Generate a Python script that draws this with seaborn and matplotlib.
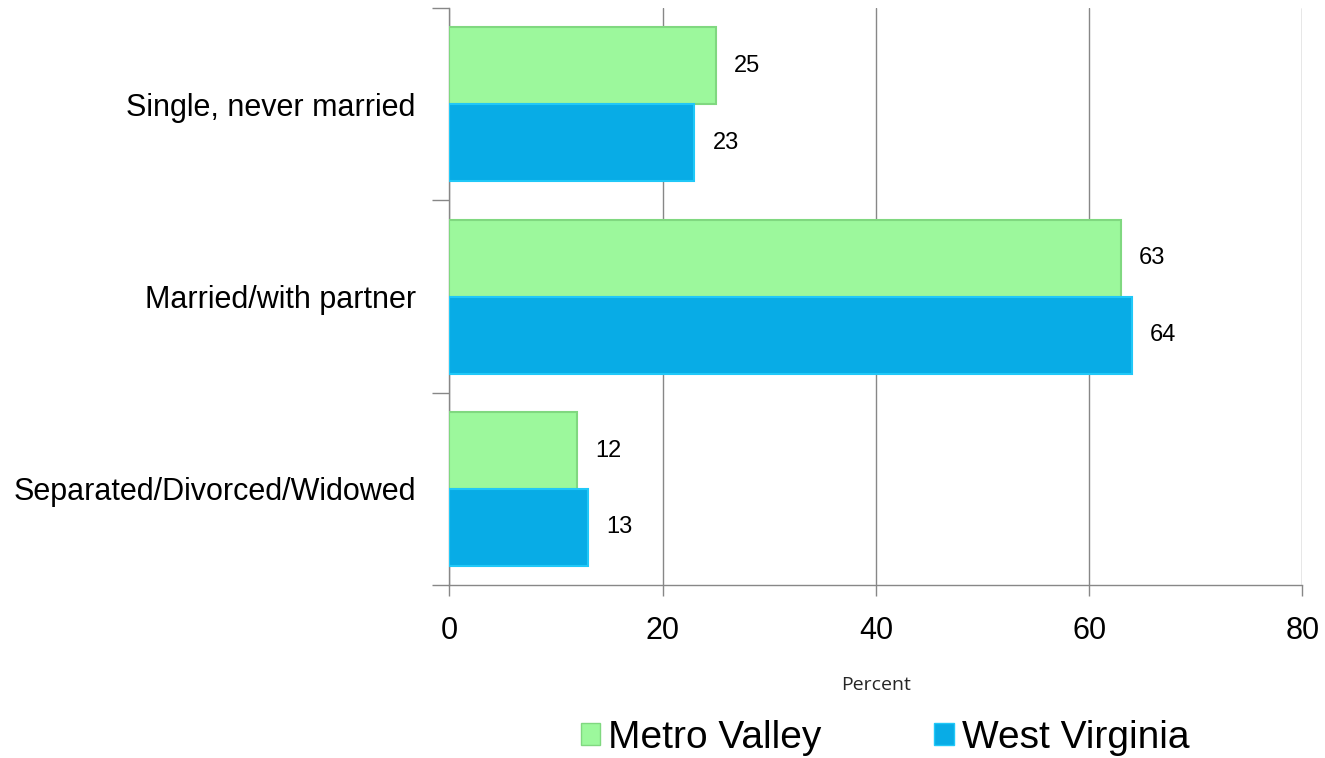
import pandas as pd
import matplotlib.pyplot as plt
import seaborn as sns
from matplotlib.patches import Patch

# values
categories = ['Single, never married', 'Married/with partner', 'Separated/Divorced/Widowed']
metro_valley = [25, 63, 12]
west_virginia = [23, 64, 13]
series_names = ['Metro Valley', 'West Virginia']
x_ticks = [0, 20, 40, 60, 80]

df = pd.DataFrame({
    'category': categories * 2,
    'value': metro_valley + west_virginia,
    'series': [series_names[0]] * 3 + [series_names[1]] * 3,
})

sns.set_style('white')
plt.rcParams['font.family'] = ['Liberation Sans', 'DejaVu Sans']
plt.rcParams['text.color'] = 'black'
plt.rcParams['xtick.color'] = '#878787'
plt.rcParams['ytick.color'] = '#878787'
plt.rcParams['xtick.labelcolor'] = 'black'
plt.rcParams['ytick.labelcolor'] = 'black'

colors = {'Metro Valley': '#9cf89c', 'West Virginia': '#08ace6'}
edges = {'Metro Valley': '#80d880', 'West Virginia': '#20c8f8'}

fig = plt.figure(figsize=(13.25, 7.58), dpi=100)
ax = fig.add_axes([0.339, 0.228, 0.644, 0.7614])

sns.barplot(data=df, y='category', x='value', hue='series', orient='h',
            palette=colors, order=categories, hue_order=series_names,
            width=0.8, saturation=1, legend=False, ax=ax, zorder=3)

# bar edges and value labels
for container, name in zip(ax.containers, series_names):
    for bar in container:
        bar.set_edgecolor(edges[name])
        bar.set_linewidth(1.5)
    ax.bar_label(container, padding=13, fontsize=17, color='black')

ax.set_xlim(0, 80)
ax.set_ylim(2.5, -0.5)
ax.set_xticks(x_ticks)
ax.tick_params(axis='x', bottom=True, labelsize=22, length=8, width=1, pad=14)
ax.tick_params(axis='y', which='major', left=True, length=0, labelsize=22, pad=24)
ax.set_yticks([-0.5, 0.5, 1.5, 2.5], minor=True)
ax.tick_params(axis='y', which='minor', left=True, length=12, width=1)

ax.grid(axis='x', color='#878787', linewidth=1, zorder=0)
ax.set_axisbelow(True)
for side in ['top', 'right']:
    ax.spines[side].set_visible(False)
for side in ['left', 'bottom']:
    ax.spines[side].set_color('#878787')
    ax.spines[side].set_linewidth(1)

ax.set_ylabel('')
ax.set_xlabel('Percent', fontsize=14, labelpad=22, family=['Open Sans', 'DejaVu Sans'])

handles = [Patch(facecolor=colors[n], edgecolor=edges[n], label=n) for n in series_names]
fig.legend(handles=handles, loc='center', bbox_to_anchor=(0.668, 0.027), ncol=2,
           frameon=False, fontsize=28, handlelength=0.5, handleheight=0.5,
           handletextpad=0.2, columnspacing=2.9)

fig.savefig('out.png', dpi=100)
